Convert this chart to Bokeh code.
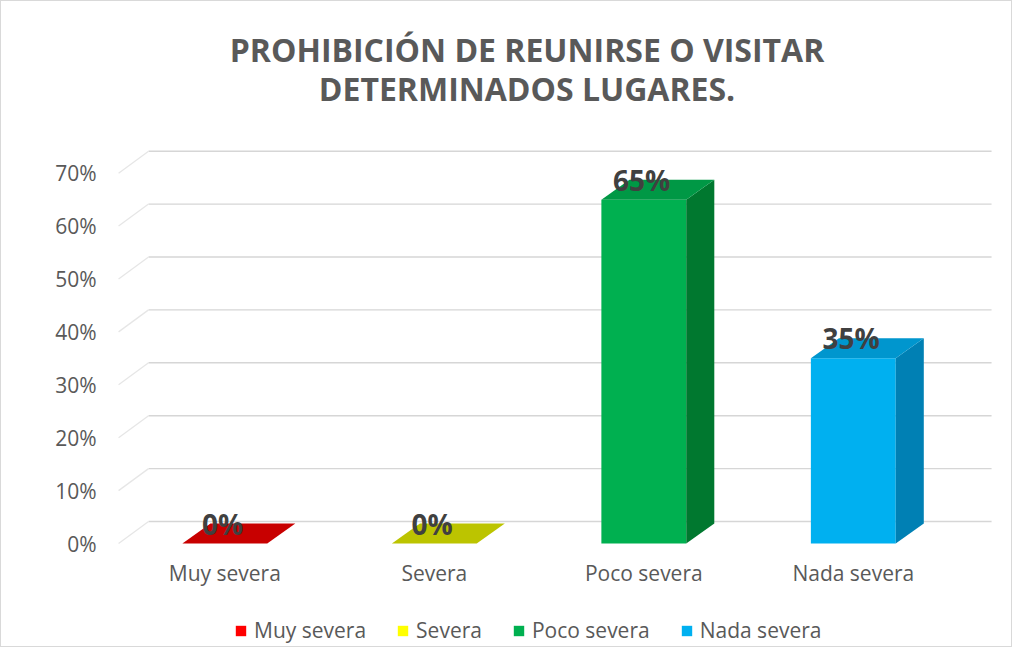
from bokeh.plotting import figure
from bokeh.layouts import column
from bokeh.models import (FixedTicker, NumeralTickFormatter, Legend, LegendItem,
                          ColumnDataSource, Range1d)
from bokeh.core.properties import value
from bokeh.embed import file_html
from bokeh.resources import INLINE

# ---- data ----
categories = ["Muy severa", "Severa", "Poco severa", "Nada severa"]
values = [0.0, 0.0, 0.65, 0.35]
value_labels = ["0%", "0%", "65%", "35%"]
legend_colors = ["#FF0000", "#FFFF00", "#00B050", "#00B0F0"]
front_colors = ["#E00000", "#D8D800", "#00B050", "#00B0F0"]
side_colors = ["#9C0000", "#9CA000", "#00782F", "#0080B4"]
top_colors = ["#C80000", "#BCC400", "#009845", "#0096CE"]
y_ticks = [0.0, 0.1, 0.2, 0.3, 0.4, 0.5, 0.6, 0.7]
title_lines = ["PROHIBICIÓN DE REUNIRSE O VISITAR", "DETERMINADOS LUGARES."]

# ---- geometry (3D look) ----
bar_w = 0.405
bar_dx, bar_dy = 0.134, 0.0378
wall_dx, wall_dy = 0.143, 0.0416
wall_x0, wall_x1 = -0.507, 3.66

FONT = "Open Sans"
GREY = "#595959"
W = 1010
TITLE_H, MAIN_H, LEG_H = 130, 485, 30
BL, BR = 105, 10   # shared left/right borders (frames are aligned in the column)

# ---- title strip ----
tf = figure(width=W, height=TITLE_H, output_backend="svg", toolbar_location=None,
            x_range=Range1d(BL, W - BR), y_range=Range1d(TITLE_H, 0),
            x_axis_type=None, y_axis_type=None, min_border=0,
            min_border_left=BL, min_border_right=BR)
tf.outline_line_color = None
tf.grid.visible = False
tf.text(x=[525.5, 525.5], y=[48, 87], text=title_lines, text_align="center",
        text_baseline="middle", text_font=value(FONT), text_font_size="32px",
        text_font_style="bold", text_color=GREY)

# ---- main chart ----
p = figure(width=W, height=MAIN_H, output_backend="svg", toolbar_location=None,
           x_range=Range1d(-0.5647, 3.7074), y_range=Range1d(-0.034, 0.7788),
           min_border_left=BL, min_border_right=BR, min_border_top=0,
           min_border_bottom=55)
p.outline_line_color = None
p.xgrid.visible = False
p.ygrid.visible = False

# back wall gridlines + left wall diagonals
gx0 = [wall_x0 + wall_dx] * len(y_ticks)
gx1 = [wall_x1] * len(y_ticks)
gy = [y + wall_dy for y in y_ticks]
p.segment(x0=gx0, y0=gy, x1=gx1, y1=gy, line_color="#D6D6D6", line_width=1.4)
p.segment(x0=[wall_x0] * len(y_ticks), y0=y_ticks, x1=gx0, y1=gy,
          line_color="#E6E6E6", line_width=1.3)

# bars
xs = list(range(len(categories)))
front = ColumnDataSource(dict(left=[x - bar_w / 2 for x in xs],
                              right=[x + bar_w / 2 for x in xs],
                              top=values, bottom=[0] * len(xs), color=front_colors))
p.quad(left="left", right="right", top="top", bottom="bottom", source=front,
       fill_color="color", line_color=None)

side_xs, side_ys, top_xs, top_ys = [], [], [], []
for x, v in zip(xs, values):
    r = x + bar_w / 2
    l = x - bar_w / 2
    side_xs.append([r, r + bar_dx, r + bar_dx, r])
    side_ys.append([0, bar_dy, v + bar_dy, v])
    top_xs.append([l, r, r + bar_dx, l + bar_dx])
    top_ys.append([v, v, v + bar_dy, v + bar_dy])
p.patches(xs=side_xs, ys=side_ys, fill_color=side_colors, line_color=None)
p.patches(xs=top_xs, ys=top_ys, fill_color=top_colors, line_color=None)

# data labels
p.text(x=[x - 0.01 for x in xs], y=[v + bar_dy for v in values], text=value_labels,
       text_align="center", text_baseline="alphabetic",
       text_font=value(FONT), text_font_size="28px", text_font_style="bold",
       text_color="#404040")

# axes
p.xaxis.ticker = FixedTicker(ticks=xs)
p.xaxis.major_label_overrides = {i: c for i, c in enumerate(categories)}
p.yaxis.ticker = FixedTicker(ticks=y_ticks)
p.yaxis.formatter = NumeralTickFormatter(format="0%")
for ax in (p.xaxis[0], p.yaxis[0]):
    ax.axis_line_color = None
    ax.major_tick_line_color = None
    ax.minor_tick_line_color = None
    ax.major_tick_out = 0
    ax.major_tick_in = 0
    ax.major_label_text_font = FONT
    ax.major_label_text_font_size = "21px"
    ax.major_label_text_color = GREY
p.yaxis.major_label_standoff = 10
p.xaxis.major_label_standoff = -3

# ---- legend strip ----
lf = figure(width=W, height=LEG_H, output_backend="svg", toolbar_location=None,
            x_range=Range1d(0, 1), y_range=Range1d(0, 1),
            x_axis_type=None, y_axis_type=None, min_border=0,
            min_border_left=BL, min_border_right=BR)
lf.outline_line_color = None
lf.grid.visible = False
items = []
for c, col in zip(categories, legend_colors):
    r = lf.quad(left=[0], right=[0], top=[0], bottom=[0], fill_color=col,
                line_color=None)
    items.append(LegendItem(label=c, renderers=[r]))
legend = Legend(items=items, orientation="horizontal", location=(128, 2),
                glyph_width=13, glyph_height=13, label_standoff=7, spacing=30,
                label_text_font=FONT, label_text_font_size="21px",
                label_text_color=GREY, border_line_color=None,
                background_fill_alpha=0, margin=0, padding=0)
lf.add_layout(legend, "center")

layout = column(tf, p, lf, spacing=0, styles={"border": "1px solid #D9D9D9"})
open("out.html", "w").write(file_html(layout, INLINE))
